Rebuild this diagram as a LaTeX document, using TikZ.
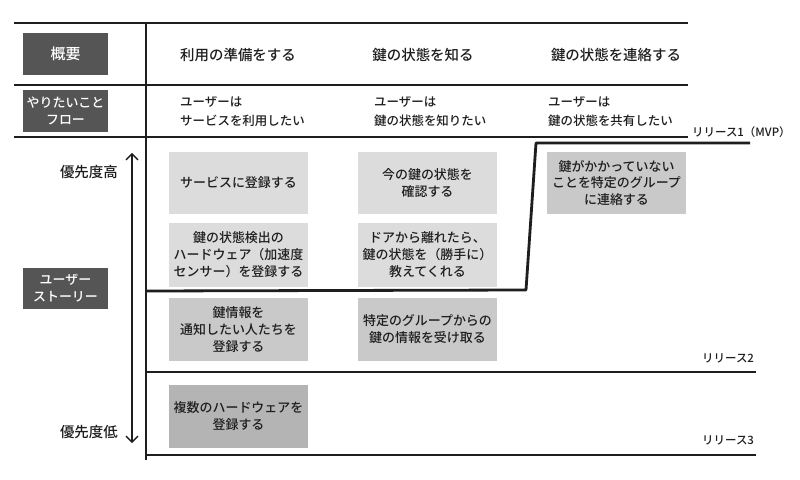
\documentclass[tikz,border=0pt]{standalone}
\usepackage{fontspec}
\setmainfont{Noto Sans CJK JP}[BoldFont={* Medium}]
\usetikzlibrary{arrows.meta}
\definecolor{darkbox}{HTML}{555555}
\definecolor{cardA}{HTML}{DCDCDC}
\definecolor{cardB}{HTML}{C9C9C9}
\definecolor{cardC}{HTML}{B4B4B4}
\definecolor{ink}{HTML}{1E1E1E}
\tikzset{
  labelbox/.style={fill=darkbox, text=white, minimum width=85bp, minimum height=42bp, inner sep=0pt, align=center, font=\fontsize{13}{17}\selectfont\bfseries},
  colhead/.style={text=ink, inner sep=0pt, font=\fontsize{14.5}{18}\selectfont\bfseries},
  flowtext/.style={text=ink, inner sep=0pt, anchor=west, align=left, font=\fontsize{12.5}{19}\selectfont\bfseries},
  card/.style={text=ink, minimum width=139bp, minimum height=63bp, inner sep=0pt, align=center, font=\fontsize{13}{17}\selectfont\bfseries},
  prio/.style={text=ink, inner sep=0pt, anchor=east, font=\fontsize{14.5}{18}\selectfont\bfseries},
  rel/.style={text=ink, inner sep=0pt, anchor=west, font=\fontsize{11.5}{14}\selectfont\bfseries},
  thinline/.style={draw=ink, line width=1.3bp},
  relline/.style={draw=ink, line width=2.8bp, line join=round},
}
\begin{document}
\begin{tikzpicture}[x=1bp, y=-1bp]
\useasboundingbox (0,0) rectangle (800,480);
\fill[white] (0,0) rectangle (800,480);
% table grid
\coordinate (t1l) at (14,23);  \coordinate (t1r) at (688,23);
\coordinate (t2l) at (14,85);  \coordinate (t2r) at (688,85);
\coordinate (t3l) at (14,137); \coordinate (t3r) at (688,137);
\coordinate (vt) at (146,23);  \coordinate (vb) at (146,460);
\draw[thinline] (t1l) -- (t1r);
\draw[thinline] (t2l) -- (t2r);
\draw[thinline] (t3l) -- (t3r);
\draw[thinline] (vt) -- (vb);
% left label boxes
\node[labelbox, font=\fontsize{15}{18}\selectfont\bfseries] (gaiyo) at (65.5,54) {概要};
\node[labelbox] (flow) at (65.5,111) {やりたいこと\\フロー};
\node[labelbox, minimum height=41bp] (story) at (65.5,288.5) {ユーザー\\ストーリー};
% column headers
\node[colhead] (h1) at (238,55) {利用の準備をする};
\node[colhead] (h2) at (423,55) {鍵の状態を知る};
\node[colhead] (h3) at (616,55) {鍵の状態を連絡する};
% flow texts
\node[flowtext] (f1) at (180,112) {ユーザーは\\サービスを利用したい};
\node[flowtext] (f2) at (374,112) {ユーザーは\\鍵の状態を知りたい};
\node[flowtext] (f3) at (548,112) {ユーザーは\\鍵の状態を共有したい};
% cards
\node[card, fill=cardA, minimum height=62bp] (c11) at (238.5,183) {サービスに登録する};
\node[card, fill=cardA, minimum height=64bp] (c12) at (238.5,255) {鍵の状態検出の\\ハードウェア（加速度\\センサー）を登録する};
\node[card, fill=cardB] (c13) at (238.5,329.5) {鍵情報を\\通知したい人たちを\\登録する};
\node[card, fill=cardC] (c14) at (238.5,416.5) {複数のハードウェアを\\登録する};
\node[card, fill=cardA, minimum height=62bp] (c21) at (427.5,183) {今の鍵の状態を\\確認する};
\node[card, fill=cardA, minimum height=64bp] (c22) at (427.5,255) {ドアから離れたら、\\鍵の状態を（勝手に）\\教えてくれる};
\node[card, fill=cardB] (c23) at (427.5,329.5) {特定のグループからの\\鍵の情報を受け取る};
\node[card, fill=cardB, minimum height=62bp] (c31) at (616.5,183) {鍵がかかっていない\\ことを特定のグループ\\に連絡する};
% priority arrow
\coordinate (ab) at (132,443);
\coordinate (at) at (132,153);
\draw[draw=ink, line width=1.3bp, {Straight Barb[length=6bp,width=12bp]}-{Straight Barb[length=6bp,width=12bp]}] (ab) -- (at);
\node[prio] (phigh) at (118,172) {優先度高};
\node[prio] (plow) at (118,432) {優先度低};
% release lines
\coordinate (r1a) at (146,291);
\coordinate (r1b) at (526,290);
\coordinate (r1c) at (536,143);
\coordinate (r1d) at (750,143);
\draw[relline] (r1a) -- (r1b) -- (r1c) -- (r1d);
\coordinate (r2a) at (146,372); \coordinate (r2b) at (756,372);
\draw[relline] (r2a) -- (r2b);
\coordinate (r3a) at (146,455); \coordinate (r3b) at (756,455);
\draw[relline] (r3a) -- (r3b);
\node[rel] (rel1) at (692,132) {リリース1（MVP）};
\node[rel] (rel2) at (702,358) {リリース2};
\node[rel] (rel3) at (702,440) {リリース3};
\end{tikzpicture}
\end{document}
